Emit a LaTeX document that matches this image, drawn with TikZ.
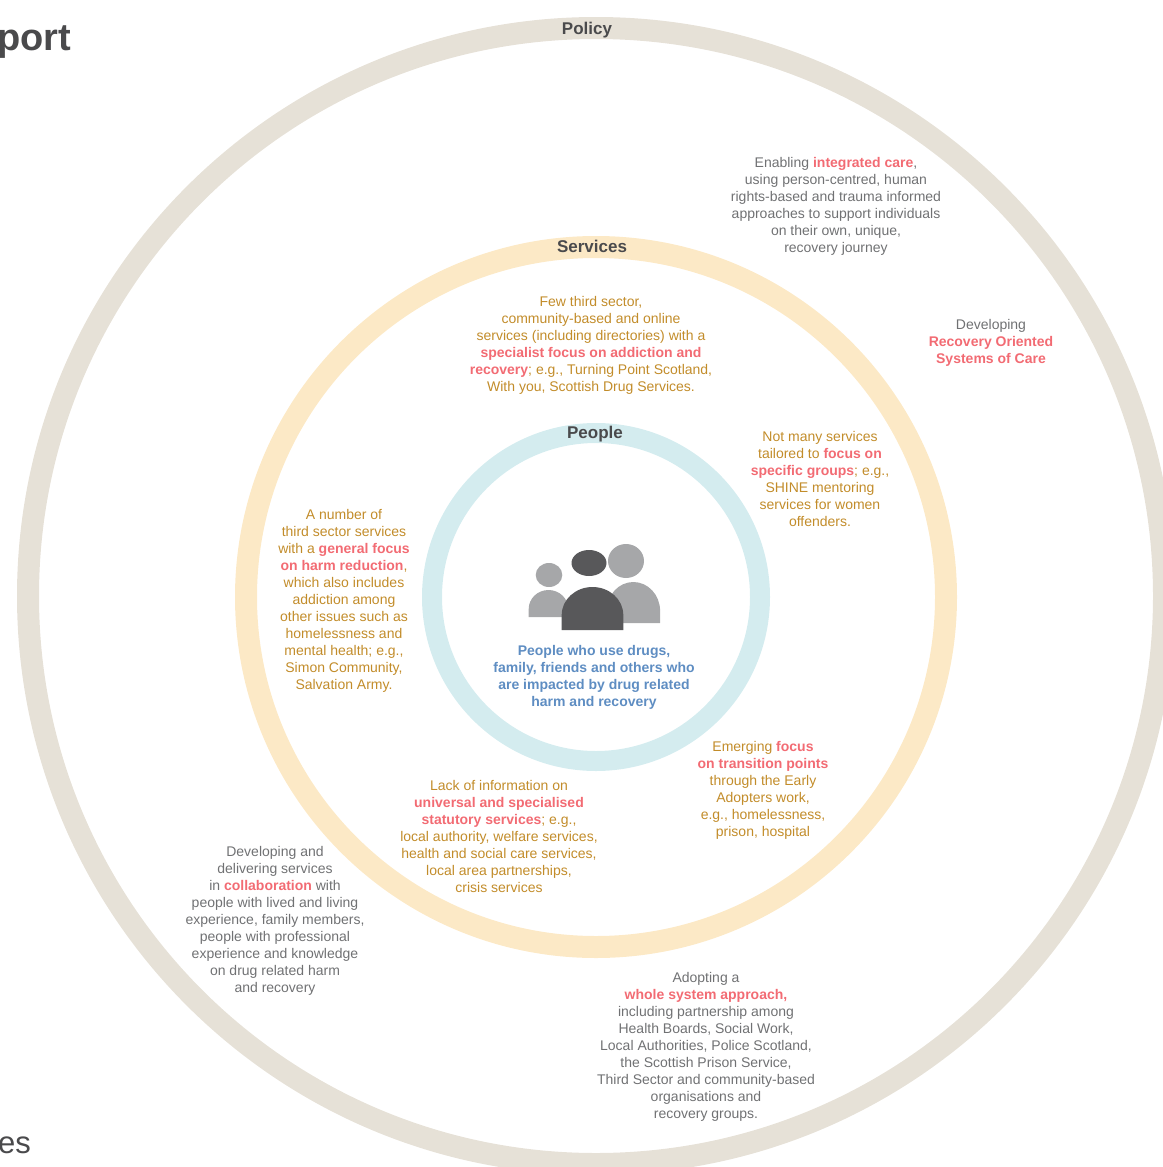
\documentclass[tikz,border=0pt]{standalone}
\usepackage{fontspec}
\setmainfont{Liberation Sans}
\usepackage{tikz}
\usetikzlibrary{positioning}

\definecolor{policyring}{HTML}{E6E1D7}
\definecolor{servring}{HTML}{FCE9C6}
\definecolor{peoplering}{HTML}{D4ECEF}
\definecolor{greytxt}{HTML}{707173}
\definecolor{orangetxt}{HTML}{C28C2A}
\definecolor{bluetxt}{HTML}{5E8DC2}
\definecolor{redtxt}{HTML}{F26B73}
\definecolor{headtxt}{HTML}{4A4A4C}
\definecolor{darkfig}{HTML}{58585A}
\definecolor{lightfig}{HTML}{A6A7A9}

\newcommand{\redbf}[1]{\textcolor{redtxt}{\textbf{#1}}}

\begin{document}
\begin{tikzpicture}[x=1pt, y=-1pt]
\tikzstyle{ring}=[line width=22pt]
\tikzstyle{ringlabel}=[font=\fontsize{17}{20}\selectfont\bfseries, text=headtxt, inner sep=0pt]
\tikzstyle{blurb}=[font=\fontsize{14}{17}\selectfont, align=center, inner sep=0pt]
\useasboundingbox (0,0) rectangle (1162,1167);

% rings
\draw[ring, policyring] (596,596) circle[radius=568];
\draw[ring, servring]   (596,597) circle[radius=350];
\draw[ring, peoplering, line width=20pt] (596,597) circle[radius=164];

\node[ringlabel] (policy)   at (587,30)  {Policy};
\node[ringlabel] (services) at (592,246) {Services};
\node[ringlabel] (people)   at (595,434) {People};

% cropped page text
\node[anchor=base west, inner sep=0pt, font=\fontsize{38}{40}\selectfont\bfseries, text=headtxt] (port) at (-3,50) {port};
\node[anchor=base west, inner sep=0pt, font=\fontsize{31}{34}\selectfont, text=headtxt] (es) at (-2,1153) {es};

% people icon
\fill[lightfig] (528.7,617) -- ++(0,-8) arc[start angle=180, end angle=360, x radius=19.8, y radius=19] -- (568.3,617) -- cycle;
\fill[lightfig] (549,575) ellipse[x radius=13.3, y radius=12];
\fill[lightfig] (606.7,623) -- ++(0,-12) arc[start angle=180, end angle=360, x radius=26.7, y radius=29] -- (660,623) -- cycle;
\fill[lightfig] (626,561) ellipse[x radius=18, y radius=17];
\fill[darkfig] (561.7,630) -- ++(0,-15) arc[start angle=180, end angle=360, x radius=30.8, y radius=28] -- (623.3,630) -- cycle;
\fill[darkfig] (589,563) ellipse[x radius=17.5, y radius=13];

% people
\node[blurb, text=bluetxt, font=\fontsize{14}{17}\selectfont\bfseries] (pwud) at (594,677)
  {People who use drugs,\\family, friends and others who\\are impacted by drug related\\harm and recovery};

% services
\node[blurb, text=orangetxt] (thirdsec) at (591,345)
  {Few third sector,\\community-based and online\\services (including directories) with a\\\redbf{specialist focus on addiction and}\\\redbf{recovery}; e.g., Turning Point Scotland,\\With you, Scottish Drug Services.};
\node[blurb, text=orangetxt] (specific) at (820,479)
  {Not many services\\tailored to \redbf{focus on}\\\redbf{specific groups}; e.g.,\\SHINE mentoring\\services for women\\offenders.};
\node[blurb, text=orangetxt] (harmred) at (344,601)
  {A number of\\third sector services\\with a \redbf{general focus}\\\redbf{on harm reduction},\\which also includes\\addiction among\\other issues such as\\homelessness and\\mental health; e.g.,\\Simon Community,\\Salvation Army.};
\node[blurb, text=orangetxt] (transition) at (763,790)
  {Emerging \redbf{focus}\\\redbf{on transition points}\\through the Early\\Adopters work,\\e.g., homelessness,\\prison, hospital};
\node[blurb, text=orangetxt] (statutory) at (499,836)
  {Lack of information on\\\redbf{universal and specialised}\\\redbf{statutory services}; e.g.,\\local authority, welfare services,\\health and social care services,\\local area partnerships,\\crisis services};

% policy
\node[blurb, text=greytxt] (integrated) at (836,206)
  {Enabling \redbf{integrated care},\\using person-centred, human\\rights-based and trauma informed\\approaches to support individuals\\on their own, unique,\\recovery journey};
\node[blurb, text=greytxt] (rosc) at (991,343)
  {Developing\\\redbf{Recovery Oriented}\\\redbf{Systems of Care}};
\node[blurb, text=greytxt] (collab) at (275,921)
  {Developing and\\delivering services\\in \redbf{collaboration} with\\people with lived and living\\experience, family members,\\people with professional\\experience and knowledge\\on drug related harm\\and recovery};
\node[blurb, text=greytxt] (wholesys) at (706,1047)
  {Adopting a\\\redbf{whole system approach,}\\including partnership among\\Health Boards, Social Work,\\Local Authorities, Police Scotland,\\the Scottish Prison Service,\\Third Sector and community-based\\organisations and\\recovery groups.};
\end{tikzpicture}
\end{document}
